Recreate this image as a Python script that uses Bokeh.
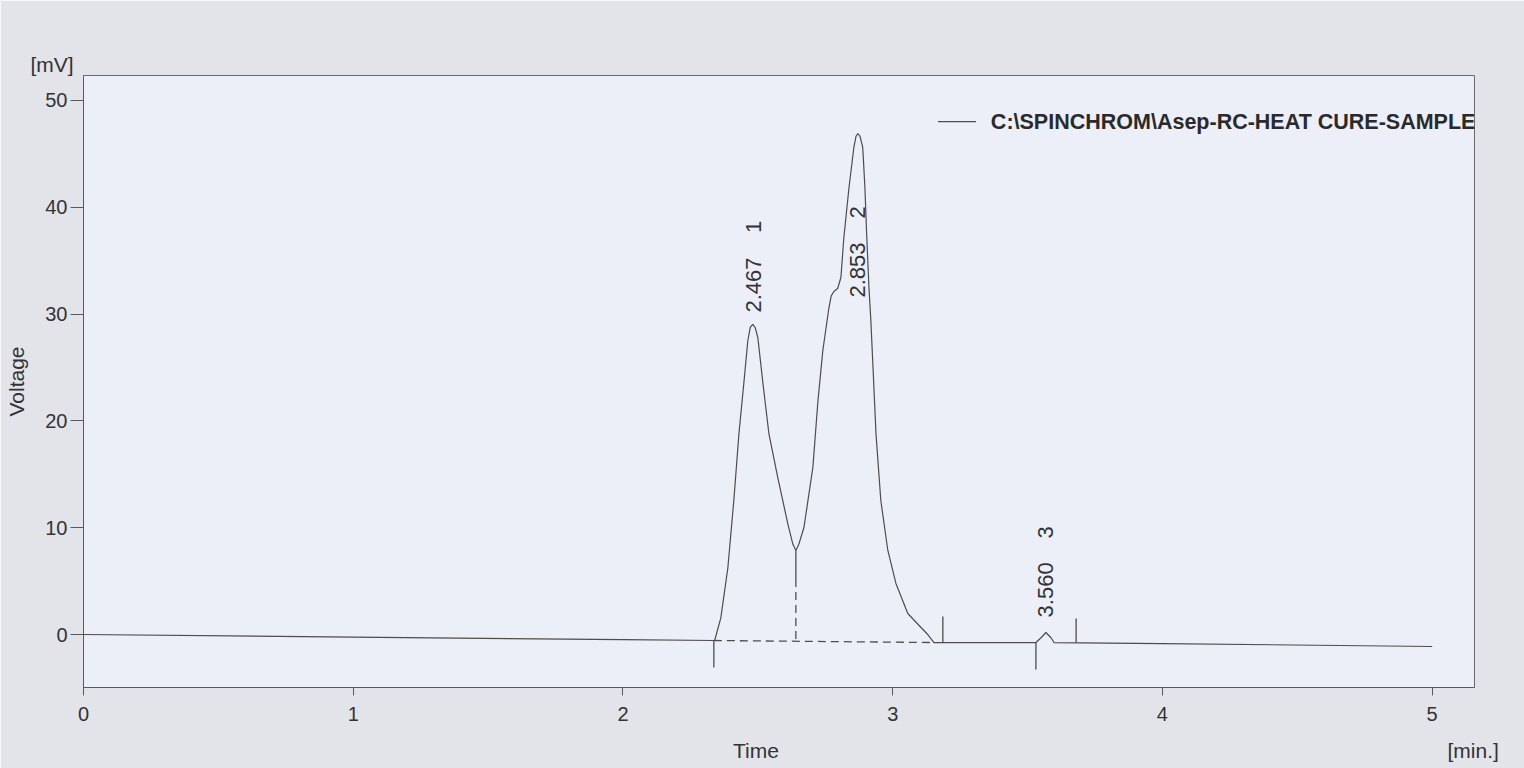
from math import pi
from bokeh.plotting import figure
from bokeh.models import Label, FixedTicker, LinearAxis, Range1d, Title
from bokeh.embed import file_html
from bokeh.resources import INLINE

# ---- chromatogram trace (time in min, signal in mV) ----
time_min = [0.0, 1.0, 2.0, 2.337, 2.340, 2.363, 2.389, 2.411, 2.430, 2.448, 2.463,
            2.472, 2.481, 2.490, 2.500, 2.519, 2.541, 2.574, 2.611, 2.630, 2.641,
            2.652, 2.671, 2.704, 2.723, 2.741, 2.763, 2.772, 2.782, 2.796, 2.808,
            2.819, 2.838, 2.856, 2.864, 2.871, 2.879, 2.889, 2.897, 2.904, 2.912,
            2.919, 2.927, 2.938, 2.956, 2.982, 3.012, 3.056, 3.105, 3.130, 3.153,
            3.531, 3.550, 3.568, 3.587, 3.598, 4.0, 5.0]
voltage_mv = [0.0, -0.24, -0.48, -0.56, -0.56, 1.59, 6.27, 12.55, 18.82, 23.50, 27.53,
              28.75, 29.03, 28.75, 27.81, 23.50, 18.82, 14.70, 10.39, 8.45, 7.87,
              8.45, 10.02, 15.64, 21.91, 26.59, 30.50, 31.70, 32.12, 32.40, 33.43,
              37.17, 41.85, 45.60, 46.65, 46.91, 46.65, 45.60, 41.85, 37.17, 32.49,
              29.40, 25.00, 18.82, 12.55, 7.87, 4.78, 1.97, 0.66, 0.0, -0.75,
              -0.75, -0.30, 0.19, -0.30, -0.75, -0.85, -1.12]

# ---- peak table ----
peak_numbers = ["1", "2", "3"]
peak_times = ["2.467", "2.853", "3.560"]
peak_label_x = [2.483, 2.871, 3.568]
peak_time_label_y = [30.15, 31.55, 1.60]
peak_number_label_y = [37.6, 38.95, 9.0]

# ---- integration marks ----
mark_x = [2.337, 3.186, 3.531, 3.680]
mark_y0 = [-0.56, -0.75, -0.75, -0.75]
mark_y1 = [-3.09, 1.69, -3.28, 1.50]
baseline_x = [2.337, 3.153]
baseline_y = [-0.56, -0.75]
valley_x = 2.641
valley_top = 7.87
valley_solid_end = 5.2
valley_bottom = -0.58

# ---- axes ----
x_ticks = [0, 1, 2, 3, 4, 5]
y_ticks = [0, 10, 20, 30, 40, 50]
x_title = "Time"
x_unit = "[min.]"
y_title = "Voltage"
y_unit = "[mV]"
series_name = "C:\\SPINCHROM\\Asep-RC-HEAT CURE-SAMPLE"

FONT = "Liberation Sans"
TXT = "#333333"
LINE = "#4d4d4d"

p = figure(width=1524, height=768, x_range=(0, 5.157), y_range=(-4.96, 52.34),
           output_backend="svg", toolbar_location=None,
           min_border_left=83, min_border_right=50, min_border_top=75, min_border_bottom=81)
p.border_fill_color = "#e3e4e9"
p.background_fill_color = "#eceef8"
p.outline_line_color = "#6a6a6a"
p.grid.visible = False

p.xaxis.ticker = FixedTicker(ticks=x_ticks)
p.yaxis.ticker = FixedTicker(ticks=y_ticks)
for ax in (p.xaxis[0], p.yaxis[0]):
    ax.axis_line_color = "#5a5a5a"
    ax.major_tick_line_color = "#5a5a5a"
    ax.minor_tick_line_color = None
    ax.major_tick_in = 0
    ax.major_label_text_font = FONT
    ax.major_label_text_font_size = "20px"
    ax.major_label_text_color = TXT
p.xaxis.major_tick_out = 8
p.xaxis.major_label_standoff = 11
p.yaxis.major_tick_out = 13
p.yaxis.major_label_standoff = 3

# y axis title
p.yaxis.axis_label = y_title
p.yaxis.axis_label_text_font = FONT
p.yaxis.axis_label_text_font_size = "21px"
p.yaxis.axis_label_text_font_style = "normal"
p.yaxis.axis_label_text_color = TXT
p.yaxis.axis_label_standoff = 14

# y unit as a title above the frame
p.add_layout(Title(text=y_unit, align="left", offset=-53, standoff=0, text_font=FONT,
                   text_font_size="21px", text_font_style="normal", text_color=TXT), "above")

# x title + unit as labels of a second, bare axis below (scale in thousandths of a minute)
p.extra_x_ranges = {"titles": Range1d(0, 5157)}
title_axis = LinearAxis(x_range_name="titles", ticker=FixedTicker(ticks=[2493, 5152]),
                        major_label_overrides={2493: x_title, 5152: x_unit})
title_axis.axis_line_color = None
title_axis.major_tick_line_color = None
title_axis.minor_tick_line_color = None
title_axis.major_tick_out = 0
title_axis.major_tick_in = 0
title_axis.major_label_standoff = 15
title_axis.major_label_text_font = FONT
title_axis.major_label_text_font_size = "21px"
title_axis.major_label_text_color = TXT
p.add_layout(title_axis, "below")

# trace
p.line(time_min, voltage_mv, line_color=LINE, line_width=1.2)

# integration marks
p.segment(x0=mark_x, y0=mark_y0, x1=mark_x, y1=mark_y1, line_color=LINE, line_width=1.3)
p.line(baseline_x, baseline_y, line_color=LINE, line_width=1.3, line_dash="8 5")
p.segment(x0=[valley_x], y0=[valley_top], x1=[valley_x], y1=[valley_solid_end],
          line_color=LINE, line_width=1.3)
p.segment(x0=[valley_x], y0=[valley_solid_end], x1=[valley_x], y1=[valley_bottom],
          line_color=LINE, line_width=1.3, line_dash="8 5")

# peak labels
for x, t, yt, n, yn in zip(peak_label_x, peak_times, peak_time_label_y, peak_numbers, peak_number_label_y):
    p.add_layout(Label(x=x, y=yt, text=t, angle=pi / 2, text_align="left", text_baseline="middle",
                       text_font=FONT, text_font_size="22px", text_color=TXT))
    p.add_layout(Label(x=x, y=yn, text=n, angle=pi / 2, text_align="left", text_baseline="middle",
                       text_font=FONT, text_font_size="22px", text_color=TXT))

# legend (manual)
p.line([3.168, 3.309], [48.03, 48.03], line_color=LINE, line_width=1.2)
p.add_layout(Label(x=3.364, y=48.03, text=series_name, text_align="left", text_baseline="middle",
                   text_font=FONT, text_font_size="21.5px", text_font_style="bold", text_color="#2a2a2a"))

open("out.html", "w").write(file_html(p, INLINE))
